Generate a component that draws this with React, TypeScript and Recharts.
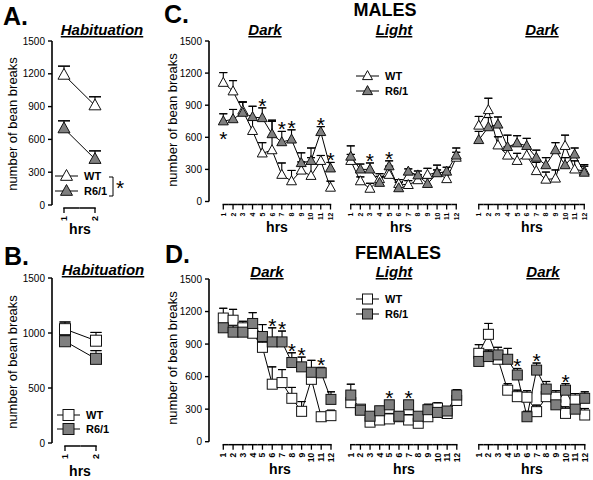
import React from 'react';
import { LineChart, Line, XAxis, YAxis, ErrorBar } from 'recharts';

const FONT = '"Liberation Sans", Arial, Helvetica, sans-serif';

// ---------- categories / tick labels ----------
const habHours = [1, 2];
const habLabels = ['1', '2'];
const hours = [1, 2, 3, 4, 5, 6, 7, 8, 9, 10, 11, 12];
const hourLabels = ['1', '2', '3', '4', '5', '6', '7', '8', '9', '10', '11', '12'];
const yTicks300 = [0, 300, 600, 900, 1200, 1500];
const yTicks500 = [0, 500, 1000, 1500];

// ---------- A. males habituation ----------
const maleHabWT = [1190, 910];
const maleHabWTErr = [80, 80];
const maleHabR6 = [700, 420];
const maleHabR6Err = [70, 75];

// ---------- B. females habituation ----------
const femHabWT = [1035, 930];
const femHabWTErr = [65, 75];
const femHabR6 = [925, 765];
const femHabR6Err = [55, 75];

// ---------- C. males, dark 1 ----------
const maleDark1WT = [1110, 1030, 850, 660, 450, 480, 250, 190, 290, 240, 380, 130];
const maleDark1WTErr = [95, 100, 80, 100, 100, 270, 110, 100, 80, 170, 50, 60];
const maleDark1R6 = [750, 770, 830, 790, 780, 630, 555, 580, 360, 380, 650, 310];
const maleDark1R6Err = [70, 90, 100, 100, 95, 130, 100, 90, 95, 120, 50, 55];
const maleDark1SigAbove = [5, 7, 8, 11, 12];
const maleDark1SigBelow = [1];

// ---------- C. males, light ----------
const maleLightWT = [380, 190, 120, 210, 250, 165, 155, 200, 250, 270, 210, 410];
const maleLightWTErr = [60, 40, 50, 50, 80, 40, 40, 50, 60, 70, 60, 50];
const maleLightR6 = [420, 300, 300, 175, 330, 125, 280, 245, 165, 265, 280, 430];
const maleLightR6Err = [100, 50, 60, 60, 50, 55, 25, 40, 50, 30, 40, 70];
const maleLightSigAbove = [3, 5];

// ---------- C. males, dark 2 ----------
const maleDark2WT = [710, 855, 525, 430, 380, 430, 285, 205, 215, 520, 300, 285];
const maleDark2WTErr = [85, 110, 80, 80, 70, 80, 80, 70, 80, 100, 80, 60];
const maleDark2R6 = [575, 695, 720, 510, 545, 520, 410, 340, 480, 340, 440, 270];
const maleDark2R6Err = [80, 90, 70, 110, 70, 70, 70, 70, 70, 70, 60, 60];
const maleDark2SigAbove: number[] = [];

// ---------- D. females, dark 1 ----------
const femDark1WT = [1140, 1120, 1050, 1000, 870, 530, 545, 400, 280, 575, 230, 240];
const femDark1WTErr = [90, 100, 60, 80, 90, 160, 120, 100, 90, 80, 40, 50];
const femDark1R6 = [1050, 1010, 1010, 1090, 970, 920, 920, 730, 690, 640, 635, 390];
const femDark1R6Err = [60, 60, 60, 100, 110, 130, 100, 90, 90, 110, 50, 70];
const femDark1SigAbove = [6, 7, 8, 9, 11];

// ---------- D. females, light ----------
const femLightWT = [360, 300, 180, 200, 210, 230, 200, 170, 230, 310, 260, 380];
const femLightWTErr = [60, 40, 40, 40, 50, 40, 50, 40, 40, 50, 40, 50];
const femLightR6 = [430, 290, 235, 285, 340, 235, 340, 235, 295, 270, 283, 430];
const femLightR6Err = [100, 30, 30, 40, 40, 30, 40, 30, 50, 40, 40, 50];
const femLightSigAbove = [5, 7];

// ---------- D. females, dark 2 ----------
const femDark2WT = [815, 990, 760, 475, 415, 410, 277, 415, 410, 261, 384, 246];
const femDark2WTErr = [80, 100, 70, 60, 60, 60, 60, 60, 60, 60, 60, 60];
const femDark2R6 = [740, 785, 800, 760, 615, 230, 660, 485, 340, 475, 300, 400];
const femDark2R6Err = [60, 60, 70, 100, 60, 50, 65, 70, 60, 60, 50, 60];
const femDark2SigAbove = [5, 7, 10];

// ---------- layout ----------
type Geom = { yAxisX?: number; x1: number; xN: number; top: number; bottom: number };

const G_A: Geom = { yAxisX: 52, x1: 64, xN: 95, top: 41, bottom: 205 };
const G_B: Geom = { yAxisX: 52, x1: 65, xN: 96, top: 278, bottom: 443 };
const G_C1: Geom = { yAxisX: 209, x1: 223.3, xN: 330.5, top: 41, bottom: 201.5 };
const G_C2: Geom = { x1: 350.5, xN: 456, top: 41, bottom: 201.5 };
const G_C3: Geom = { x1: 479, xN: 584.5, top: 41, bottom: 201.5 };
const G_D1: Geom = { yAxisX: 209, x1: 223.3, xN: 331, top: 279, bottom: 441.7 };
const G_D2: Geom = { x1: 350.5, xN: 456.5, top: 279, bottom: 441.7 };
const G_D3: Geom = { x1: 479, xN: 585, top: 279, bottom: 441.7 };

const WT_FILL = '#ffffff';
const R6_FILL = '#7f7f7f';

type Shape = 'tri' | 'sq';

function markerEl(shape: Shape, cx: number, cy: number, size: number, fill: string, key?: string) {
  if (shape === 'tri') {
    const h = size * 0.9;
    const pts = `${cx},${cy - h * 0.6} ${cx - size / 2},${cy + h * 0.4} ${cx + size / 2},${cy + h * 0.4}`;
    return <polygon key={key} points={pts} fill={fill} stroke="#111" strokeWidth={1} />;
  }
  return (
    <rect key={key} x={cx - size / 2} y={cy - size / 2} width={size} height={size} fill={fill} stroke="#111" strokeWidth={1} />
  );
}

type PanelProps = {
  geom: Geom;
  hrs: number[];
  labels: string[];
  wt: number[];
  wtErr: number[];
  r6: number[];
  r6Err: number[];
  sigAbove?: number[];
  sigBelow?: number[];
  shape: Shape;
  size: number;
  cap: number; // half-width of the error-bar cap
  yTicks?: number[];
  labelFont: number;
};

function Panel(p: PanelProps) {
  const { geom, hrs, labels, shape, size, cap } = p;
  const N = hrs.length;
  const showY = geom.yAxisX !== undefined;
  const s = (geom.xN - geom.x1) / (N - 1);
  const YW = 46;
  const MT = 14;
  const MR = 8;
  const XH = 40;
  const dmin = showY ? hrs[0] - (geom.x1 - (geom.yAxisX as number)) / s : hrs[0] - 0.6;
  const dmax = hrs[N - 1] + 0.6;
  const plotLeft = geom.x1 - (hrs[0] - dmin) * s;
  const plotW = (dmax - dmin) * s;
  const plotH = geom.bottom - geom.top;
  const chartLeft = plotLeft - (showY ? YW : 0);
  const width = (showY ? YW : 0) + plotW + MR;
  const height = MT + plotH + XH;

  const sigA = p.sigAbove || [];
  const sigB = p.sigBelow || [];
  const data = hrs.map((h, i) => {
    const top = Math.max(p.wt[i] + p.wtErr[i], p.r6[i] + p.r6Err[i]);
    let star: number | null = null;
    let dir = 'up';
    if (sigA.includes(h)) star = top;
    if (sigB.includes(h)) {
      star = Math.min(p.wt[i], p.r6[i]);
      dir = 'down';
    }
    return {
      hr: h,
      wt: p.wt[i],
      wtErr: [0, p.wtErr[i]],
      wtCap: [-p.wtErr[i], p.wtErr[i]],
      r6: p.r6[i],
      r6Err: [0, p.r6Err[i]],
      r6Cap: [-p.r6Err[i], p.r6Err[i]],
      star,
      dir,
    };
  });

  const renderTick = (tp: any) => {
    const { x, y, payload } = tp;
    const idx = hrs.indexOf(payload.value);
    const yb = y + 3;
    const l = idx > 0 ? s / 2 : 0;
    const r = idx < N - 1 ? s / 2 : 0;
    const ty = yb + 8;
    return (
      <g key={`tk${idx}`}>
        <line x1={x - l - (idx === 0 ? 0.75 : 0)} x2={x + r + (idx === N - 1 ? 0.75 : 0)} y1={yb} y2={yb} stroke="#000" strokeWidth={1.5} />
        <line x1={x} x2={x} y1={yb} y2={yb + 5} stroke="#000" strokeWidth={1.3} />
        <text
          x={x}
          y={ty}
          transform={`rotate(-90, ${x}, ${ty})`}
          textAnchor="end"
          dominantBaseline="central"
          fontSize={p.labelFont}
          fontFamily={FONT}
          fontWeight="bold"
          fill="#000"
        >
          {labels[idx]}
        </text>
      </g>
    );
  };

  const dotFn = (fill: string) => (dp: any) => {
    const { cx, cy, index } = dp;
    if (cx == null || cy == null) return <g key={`e${index}`} />;
    return markerEl(shape, cx, cy, size, fill, `m${index}`);
  };

  const starDot = (dp: any) => {
    const { cx, cy, index, payload } = dp;
    if (cx == null || cy == null || payload == null || payload.star == null) return <g key={`s${index}`} />;
    const by = payload.dir === 'down' ? cy + 25 : cy + 5;
    return (
      <text key={`s${index}`} x={cx} y={by} textAnchor="middle" fontSize={21} fontFamily={FONT} fill="#000">
        *
      </text>
    );
  };

  return (
    <div style={{ position: 'absolute', left: chartLeft, top: geom.top - MT }}>
      <LineChart width={width} height={height} data={data} margin={{ top: MT, right: MR, bottom: 0, left: 0 }}>
        <XAxis
          type="number"
          dataKey="hr"
          domain={[dmin, dmax]}
          ticks={hrs}
          interval={0}
          tickSize={0}
          tickMargin={0}
          axisLine={false}
          tickLine={false}
          height={XH}
          tick={renderTick}
          allowDataOverflow
        />
        <YAxis
          type="number"
          domain={[0, 1500]}
          ticks={p.yTicks || yTicks300}
          hide={!showY}
          width={YW}
          interval={0}
          allowDataOverflow
          tickSize={4}
          tickMargin={3}
          axisLine={{ stroke: '#000', strokeWidth: 1.6 }}
          tickLine={{ stroke: '#000', strokeWidth: 1.4 }}
          tick={{ fontSize: 10, fill: '#000', fontFamily: FONT }}
        />
        <Line dataKey="wt" stroke="none" dot={false} activeDot={false} isAnimationActive={false} legendType="none">
          <ErrorBar dataKey="wtErr" width={0} stroke="#000" strokeWidth={1.1} direction="y" />
          <ErrorBar dataKey="wtCap" width={cap} stroke="#000" strokeWidth={1.1} direction="y" />
        </Line>
        <Line dataKey="r6" stroke="none" dot={false} activeDot={false} isAnimationActive={false} legendType="none">
          <ErrorBar dataKey="r6Err" width={0} stroke="#000" strokeWidth={1.1} direction="y" />
          <ErrorBar dataKey="r6Cap" width={cap} stroke="#000" strokeWidth={1.1} direction="y" />
        </Line>
        <Line dataKey="wt" stroke="#000" strokeWidth={1} dot={dotFn(WT_FILL)} activeDot={false} isAnimationActive={false} />
        <Line dataKey="r6" stroke="#000" strokeWidth={1} dot={dotFn(R6_FILL)} activeDot={false} isAnimationActive={false} />
        <Line dataKey="star" stroke="none" dot={starDot} activeDot={false} isAnimationActive={false} connectNulls={false} legendType="none" />
      </LineChart>
    </div>
  );
}

function LegendRows({ x, y1, y2, shape, size }: { x: number; y1: number; y2: number; shape: Shape; size: number }) {
  const rows = [
    { y: y1, fill: WT_FILL, text: 'WT' },
    { y: y2, fill: R6_FILL, text: 'R6/1' },
  ];
  return (
    <g>
      {rows.map((r, i) => (
        <g key={i}>
          <line x1={x} x2={x + 23} y1={r.y} y2={r.y} stroke="#000" strokeWidth={1} />
          {markerEl(shape, x + 11.5, r.y, size, r.fill)}
          <text x={x + 29} y={r.y + 4} fontSize={11} fontWeight="bold" fontFamily={FONT} fill="#000">
            {r.text}
          </text>
        </g>
      ))}
    </g>
  );
}

function Title({ x, y, text }: { x: number; y: number; text: string }) {
  return (
    <text x={x} y={y} textAnchor="middle" fontSize={15} fontWeight="bold" fontStyle="italic" textDecoration="underline" fontFamily={FONT} fill="#000">
      {text}
    </text>
  );
}

function Overlay() {
  const bold = { fontFamily: FONT, fontWeight: 'bold' as const, fill: '#000' };
  const ylab = (x: number, y: number) => (
    <text x={x} y={y} transform={`rotate(-90, ${x}, ${y})`} textAnchor="middle" fontSize={13} fontFamily={FONT} fill="#000">
      number of bean breaks
    </text>
  );
  return (
    <svg width={593} height={480} style={{ position: 'absolute', left: 0, top: 0, pointerEvents: 'none' }}>
      <text x={3} y={25} fontSize={25} {...bold}>A.</text>
      <text x={4} y={265} fontSize={25} {...bold}>B.</text>
      <text x={164} y={23} fontSize={25} {...bold}>C.</text>
      <text x={165} y={263} fontSize={25} {...bold}>D.</text>
      <text x={385} y={16} fontSize={18} textAnchor="middle" {...bold}>MALES</text>
      <text x={398} y={259} fontSize={18} textAnchor="middle" {...bold}>FEMALES</text>

      <Title x={102} y={35} text="Habituation" />
      <Title x={103} y={275} text="Habituation" />
      <Title x={265} y={35} text="Dark" />
      <Title x={394} y={35} text="Light" />
      <Title x={542} y={35} text="Dark" />
      <Title x={267} y={277} text="Dark" />
      <Title x={394} y={277} text="Light" />
      <Title x={543} y={277} text="Dark" />

      {ylab(17, 124)}
      {ylab(17, 362)}
      {ylab(177, 120)}
      {ylab(177, 358)}

      <text x={80} y={234} fontSize={14} textAnchor="middle" {...bold}>hrs</text>
      <text x={80} y={476} fontSize={14} textAnchor="middle" {...bold}>hrs</text>
      <text x={277} y={232} fontSize={14} textAnchor="middle" {...bold}>hrs</text>
      <text x={401} y={232} fontSize={14} textAnchor="middle" {...bold}>hrs</text>
      <text x={532} y={232} fontSize={14} textAnchor="middle" {...bold}>hrs</text>
      <text x={280} y={474} fontSize={14} textAnchor="middle" {...bold}>hrs</text>
      <text x={404} y={474} fontSize={14} textAnchor="middle" {...bold}>hrs</text>
      <text x={532} y={474} fontSize={14} textAnchor="middle" {...bold}>hrs</text>

      <LegendRows x={55} y1={176} y2={191} shape="tri" size={12} />
      <path d="M 109 177 H 113 V 196 H 109" fill="none" stroke="#000" strokeWidth={1} />
      <text x={120} y={195} fontSize={21} textAnchor="middle" fontFamily={FONT} fill="#000">*</text>
      <LegendRows x={57} y1={415} y2={429} shape="sq" size={11} />
      <LegendRows x={356} y1={76} y2={91} shape="tri" size={10} />
      <LegendRows x={356} y1={299} y2={314} shape="sq" size={10} />
    </svg>
  );
}

export default function App() {
  return (
    <div style={{ position: 'absolute', left: 0, top: 0, width: 593, height: 480, background: '#fff', fontFamily: FONT }}>
      <Panel geom={G_A} hrs={habHours} labels={habLabels} wt={maleHabWT} wtErr={maleHabWTErr} r6={maleHabR6} r6Err={maleHabR6Err} shape="tri" size={12} cap={6} yTicks={yTicks300} labelFont={9} />
      <Panel geom={G_B} hrs={habHours} labels={habLabels} wt={femHabWT} wtErr={femHabWTErr} r6={femHabR6} r6Err={femHabR6Err} shape="sq" size={11} cap={5.5} yTicks={yTicks500} labelFont={9} />
      <Panel geom={G_C1} hrs={hours} labels={hourLabels} wt={maleDark1WT} wtErr={maleDark1WTErr} r6={maleDark1R6} r6Err={maleDark1R6Err} sigAbove={maleDark1SigAbove} sigBelow={maleDark1SigBelow} shape="tri" size={10} cap={4} labelFont={7} />
      <Panel geom={G_C2} hrs={hours} labels={hourLabels} wt={maleLightWT} wtErr={maleLightWTErr} r6={maleLightR6} r6Err={maleLightR6Err} sigAbove={maleLightSigAbove} shape="tri" size={10} cap={4} labelFont={7} />
      <Panel geom={G_C3} hrs={hours} labels={hourLabels} wt={maleDark2WT} wtErr={maleDark2WTErr} r6={maleDark2R6} r6Err={maleDark2R6Err} sigAbove={maleDark2SigAbove} shape="tri" size={10} cap={4} labelFont={7} />
      <Panel geom={G_D1} hrs={hours} labels={hourLabels} wt={femDark1WT} wtErr={femDark1WTErr} r6={femDark1R6} r6Err={femDark1R6Err} sigAbove={femDark1SigAbove} shape="sq" size={10} cap={4} labelFont={8.5} />
      <Panel geom={G_D2} hrs={hours} labels={hourLabels} wt={femLightWT} wtErr={femLightWTErr} r6={femLightR6} r6Err={femLightR6Err} sigAbove={femLightSigAbove} shape="sq" size={10} cap={4} labelFont={8.5} />
      <Panel geom={G_D3} hrs={hours} labels={hourLabels} wt={femDark2WT} wtErr={femDark2WTErr} r6={femDark2R6} r6Err={femDark2R6Err} sigAbove={femDark2SigAbove} shape="sq" size={10} cap={4} labelFont={8.5} />
      <Overlay />
    </div>
  );
}
